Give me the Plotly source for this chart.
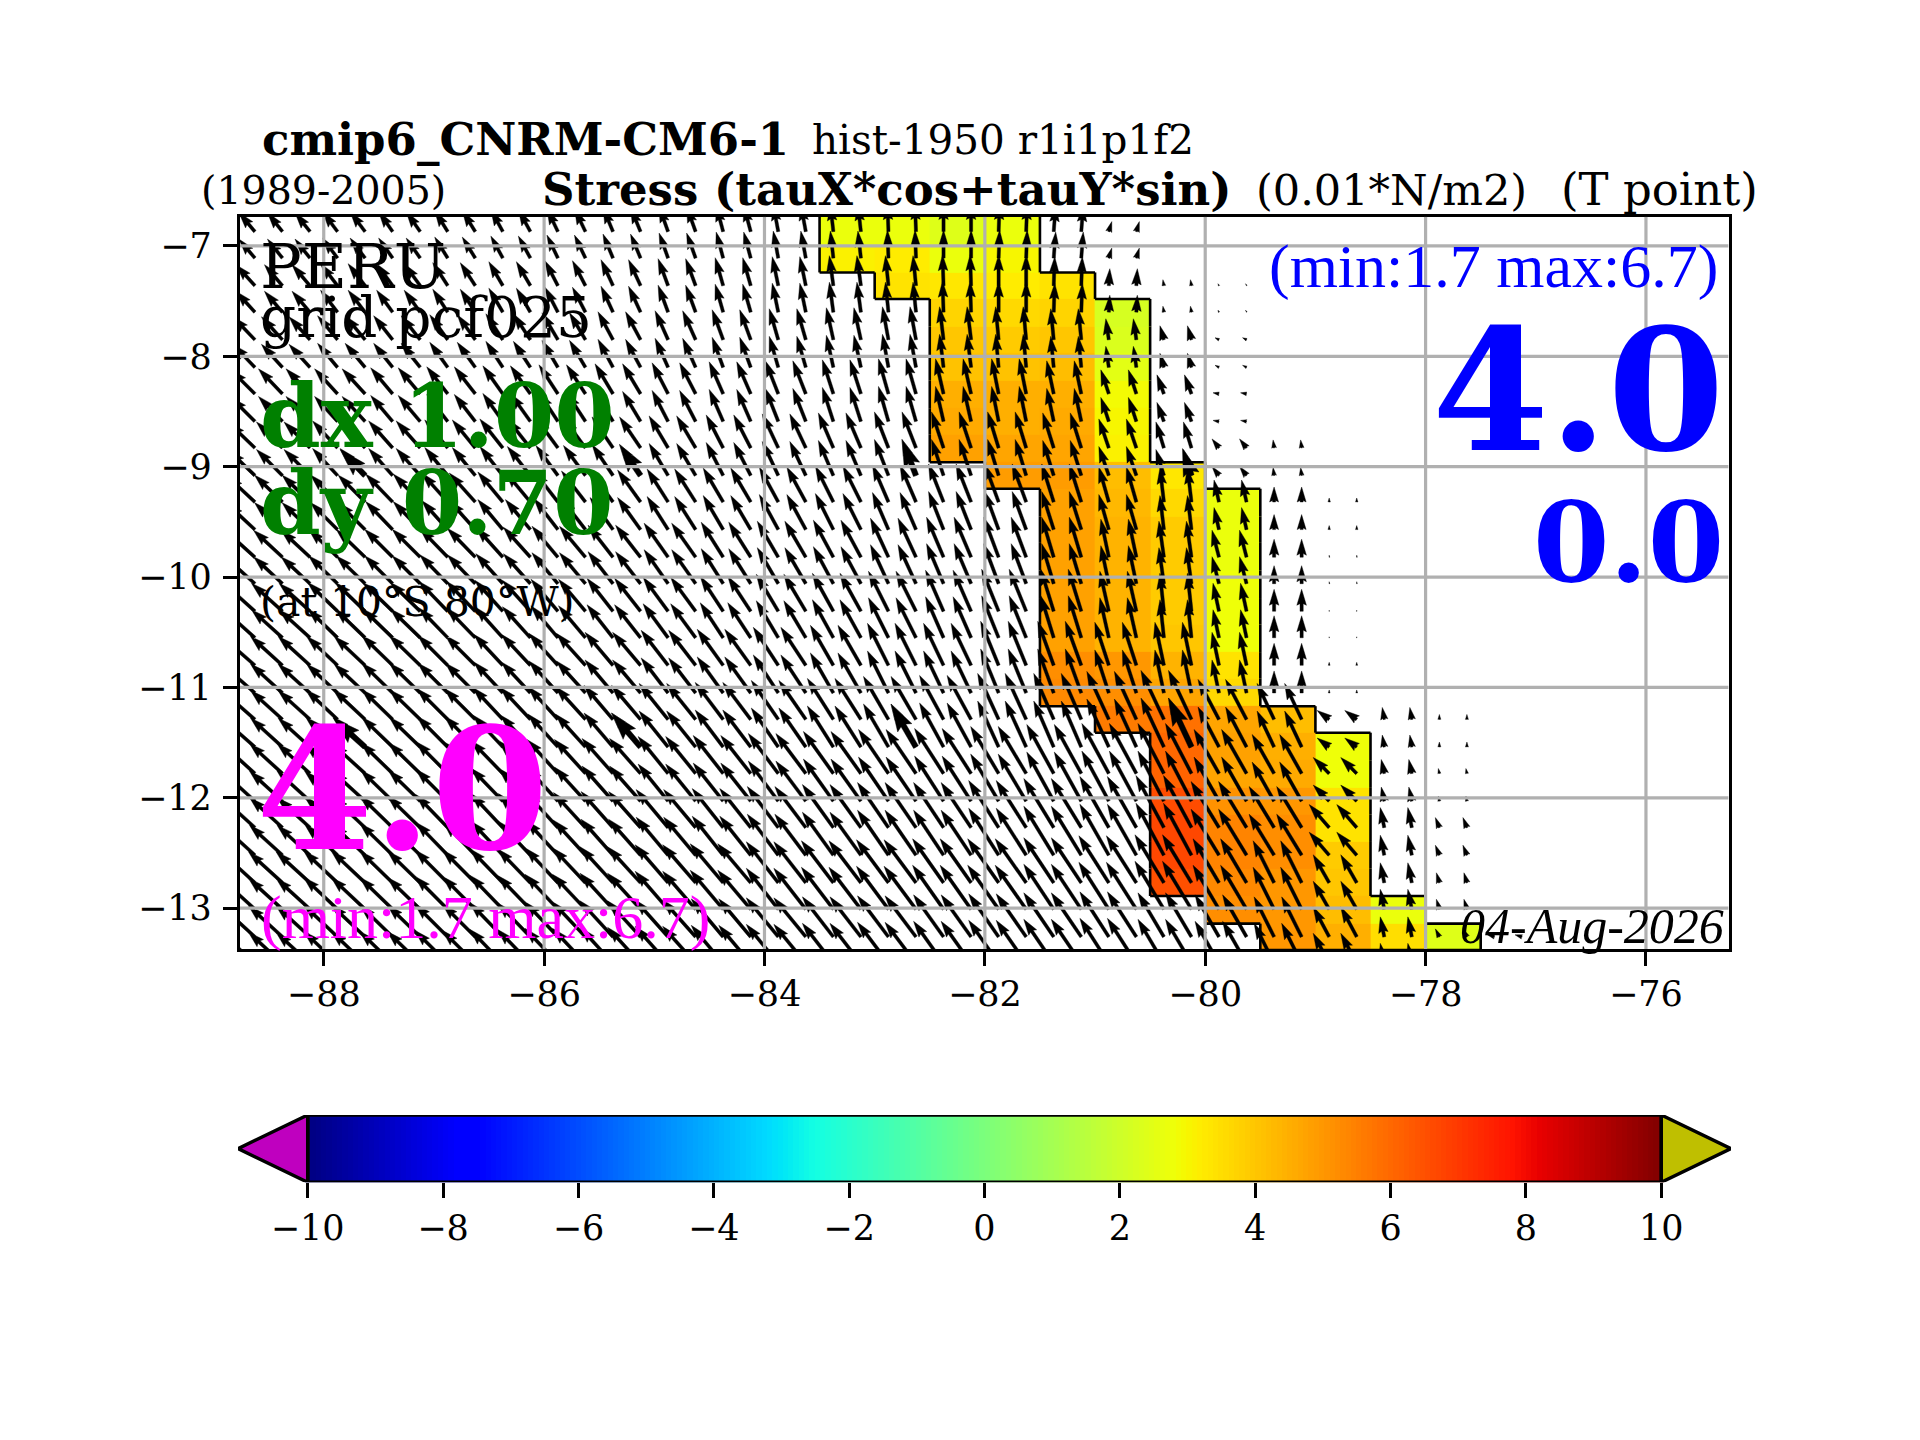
import numpy as np
import plotly.graph_objects as go

FONT = 'DejaVu Serif'
THIN_FONT = 'Liberation Serif'

# assi della mappa
lon_ticks = [-88, -86, -84, -82, -80, -78, -76]
lat_ticks = [-7, -8, -9, -10, -11, -12, -13]
lon_range = [-88.76, -75.25]
lat_range = [-13.37, -6.735]

# barra dei colori
cbar_ticks = [-10, -8, -6, -4, -2, 0, 2, 4, 6, 8, 10]
cbar_under = '#bf00bf'
cbar_over = '#bfbf00'
jet = [
    [0.0, 'rgb(0,0,128)'], [0.11, 'rgb(0,0,255)'], [0.125, 'rgb(0,0,255)'],
    [0.34, 'rgb(0,219,255)'], [0.35, 'rgb(0,230,247)'], [0.375, 'rgb(20,255,226)'],
    [0.64, 'rgb(239,255,8)'], [0.65, 'rgb(247,246,0)'], [0.66, 'rgb(255,236,0)'],
    [0.89, 'rgb(255,19,0)'], [0.91, 'rgb(232,0,0)'], [1.0, 'rgb(128,0,0)'],
]

# griglia delle celle colorate (lat_edges dal nord al sud)
lon_edges = [-83.5, -83.0, -82.5, -82.0, -81.5, -81.0, -80.5, -80.0, -79.5, -79.0, -78.5, -78.0, -77.5]
lat_edges = [-6.70, -6.99, -7.24, -7.48, -7.73, -7.97, -8.22, -8.47, -8.71, -8.96, -9.20, -9.45, -9.69, -9.94,
             -10.19, -10.43, -10.68, -10.92, -11.17, -11.41, -11.66, -11.91, -12.15, -12.40, -12.64, -12.89,
             -13.14, -13.38]

# valori di stress per colonna, a partire dalla riga col_start
col_start = [0, 0, 0, 0, 2, 3, 9, 10, 18, 19, 25, 26]
col_0 = [2.7, 3.1]
col_1 = [2.7, 3.2, 3.4]
col_2 = [2.4, 2.7, 3.3, 3.7, 4.0, 4.1, 4.5, 4.6, 4.8]
col_3 = [2.7, 3.0, 3.2, 3.6, 3.9, 4.1, 4.5, 4.5, 4.7, 4.9]
col_4 = [3.4, 3.7, 4.0, 4.2, 4.5, 4.6, 4.7, 4.9, 4.8, 4.8, 4.8, 4.8, 4.8, 4.8, 5.2, 5.3]
col_5 = [2.2, 2.3, 2.5, 2.9, 3.0, 3.1, 4.2, 4.3, 4.4, 4.4, 4.4, 4.4, 4.4, 5.0, 5.2, 5.6]
col_6 = [3.3, 3.6, 3.9, 3.9, 3.9, 3.9, 4.0, 4.4, 4.7, 5.8, 6.0, 6.1, 6.6, 6.7, 6.7, 6.5]
col_7 = [2.7, 2.7, 2.7, 2.8, 2.8, 2.8, 3.4, 3.6, 4.7, 4.8, 4.7, 5.1, 5.4, 5.4, 5.3, 5.2]
col_8 = [4.2, 4.5, 4.6, 5.0, 5.2, 5.2, 5.0, 5.0, 5.0]
col_9 = [2.8, 2.8, 3.4, 3.4, 3.9, 4.0, 4.2, 4.5]
col_10 = [2.7, 3.5]
col_11 = [2.4]
col_values = [col_0, col_1, col_2, col_3, col_4, col_5, col_6, col_7, col_8, col_9, col_10, col_11]

# vettori: ogni valore vale per due frecce in lon e due righe in lat
lon_pairs = [-88.75, -88.25, -87.75, -87.25, -86.75, -86.25, -85.75, -85.25, -84.75, -84.25, -83.75, -83.25,
             -82.75, -82.25, -81.75, -81.25, -80.75, -80.25, -79.75, -79.25, -78.75, -78.25, -77.75, -77.25]
lat_rows = [-6.87, -7.11, -7.36, -7.60, -7.85, -8.10, -8.34, -8.59, -8.83, -9.08, -9.32, -9.57, -9.82, -10.06,
            -10.31, -10.55, -10.80, -11.05, -11.29, -11.54, -11.78, -12.03, -12.27, -12.52, -12.77, -13.01,
            -13.26, -13.50]
tau_x = [
    [-1.6, -1.5, -1.5, -1.4, -1.3, -1.2, -1.1, -1.0, -0.9, -0.7, -0.5, -0.3, -0.1, 0.0, 0.1, 0.2, 0.3, 0, 0, 0, 0, 0, 0, 0],
    [-1.9, -1.8, -1.7, -1.6, -1.5, -1.4, -1.3, -1.2, -1.0, -0.8, -0.6, -0.4, -0.3, -0.1, 0.0, 0.1, 0.1, -0.1, -0.1, 0, 0, 0, 0, 0],
    [-2.2, -2.1, -2.0, -1.9, -1.8, -1.7, -1.6, -1.5, -1.3, -1.1, -0.9, -0.7, -0.6, -0.4, -0.3, -0.3, -0.3, -0.4, -0.4, 0, 0, 0, 0, 0],
    [-2.4, -2.4, -2.3, -2.2, -2.1, -2.0, -1.9, -1.8, -1.6, -1.4, -1.3, -1.1, -1.0, -0.8, -0.7, -0.7, -0.8, -0.7, -0.6, 0, 0, 0, 0, 0],
    [-2.6, -2.6, -2.5, -2.4, -2.3, -2.3, -2.2, -2.1, -1.9, -1.7, -1.6, -1.5, -1.4, -1.2, -1.1, -1.1, -1.0, -0.8, -0.7, -0.1, 0, 0, 0, 0],
    [-2.8, -2.8, -2.7, -2.7, -2.6, -2.5, -2.4, -2.3, -2.1, -2.0, -1.9, -1.8, -1.6, -1.5, -1.4, -1.2, -1.0, -0.4, -0.5, 0, 0, 0, 0, 0],
    [-3.0, -2.9, -2.9, -2.8, -2.8, -2.7, -2.6, -2.5, -2.4, -2.2, -2.1, -2.0, -1.8, -1.7, -1.5, -1.2, -0.8, -0.5, -0.7, 0, 0, 0, 0, 0],
    [-3.1, -3.1, -3.0, -3.0, -2.9, -2.8, -2.7, -2.6, -2.5, -2.3, -2.2, -2.1, -2.0, -1.8, -1.7, -1.3, -0.9, -0.4, -0.6, 0, 0, 0, 0, 0],
    [-3.2, -3.2, -3.1, -3.1, -3.0, -2.9, -2.9, -2.8, -2.7, -2.6, -2.5, -2.3, -2.1, -2.0, -1.8, -1.6, -1.4, -0.9, -0.7, 0, 0, 0, 0, 0],
    [-3.3, -3.2, -3.2, -3.1, -3.1, -3.0, -3.0, -2.9, -2.9, -2.8, -2.7, -2.6, -2.5, -2.4, -2.1, -2.0, -2.2, -2.3, -2.1, -1.7, -1.2, -0.2, 0.0, 0],
    [-3.3, -3.3, -3.3, -3.2, -3.2, -3.2, -3.1, -3.1, -3.0, -3.0, -3.0, -3.0, -3.0, -2.9, -2.8, -2.7, -2.7, -2.6, -2.5, -2.2, -1.6, -0.3, -0.1, 0],
    [-3.3, -3.3, -3.3, -3.3, -3.2, -3.2, -3.2, -3.2, -3.2, -3.1, -3.1, -3.1, -3.1, -3.0, -3.0, -3.0, -2.9, -2.8, -2.8, -2.5, -2.0, -0.4, -0.4, 0],
    [-3.4, -3.4, -3.4, -3.3, -3.3, -3.3, -3.3, -3.3, -3.3, -3.3, -3.2, -3.2, -3.2, -3.1, -3.1, -3.0, -3.0, -2.9, -2.6, -2.1, -1.6, -0.4, -0.3, 0],
    [-3.4, -3.4, -3.4, -3.3, -3.3, -3.3, -3.3, -3.3, -3.3, -3.2, -3.2, -3.1, -3.1, -3.0, -3.0, -3.0, -2.9, -2.6, -2.4, -2.0, -1.6, -0.4, -0.4, -0.7],
]
tau_y = [
    [1.9, 1.9, 2.0, 2.0, 2.1, 2.2, 2.3, 2.4, 2.5, 2.6, 2.7, 2.7, 2.8, 2.8, 2.8, 2.6, 1.0, 0, 0, 0, 0, 0, 0, 0],
    [2.1, 2.1, 2.2, 2.2, 2.3, 2.4, 2.5, 2.6, 2.7, 2.8, 2.9, 3.0, 3.0, 3.1, 3.1, 2.9, 1.7, 0.6, 0.2, 0, 0, 0, 0, 0],
    [2.3, 2.3, 2.4, 2.4, 2.5, 2.6, 2.7, 2.8, 2.9, 3.0, 3.1, 3.2, 3.3, 3.3, 3.3, 3.1, 2.1, 1.4, 0.2, 0, 0, 0, 0, 0],
    [2.4, 2.5, 2.5, 2.6, 2.7, 2.8, 2.9, 3.0, 3.1, 3.2, 3.3, 3.4, 3.5, 3.5, 3.5, 3.3, 2.4, 1.9, 0.1, 0, 0, 0, 0, 0],
    [2.5, 2.6, 2.7, 2.7, 2.8, 2.9, 3.0, 3.1, 3.2, 3.3, 3.4, 3.5, 3.6, 3.6, 3.6, 3.5, 2.9, 2.6, 0.9, 0.8, 0, 0, 0, 0],
    [2.6, 2.7, 2.7, 2.8, 2.9, 3.0, 3.1, 3.2, 3.3, 3.4, 3.5, 3.6, 3.7, 3.8, 3.8, 3.8, 3.5, 3.4, 2.2, 1.5, 0.4, 0, 0, 0],
    [2.7, 2.7, 2.8, 2.8, 2.9, 3.0, 3.1, 3.2, 3.4, 3.5, 3.6, 3.7, 3.9, 4.0, 4.0, 4.0, 3.8, 3.6, 2.7, 1.8, 0.2, 0, 0, 0],
    [2.8, 2.8, 2.9, 2.9, 3.0, 3.1, 3.2, 3.3, 3.4, 3.5, 3.7, 3.8, 4.0, 4.1, 4.2, 4.2, 4.0, 3.8, 2.8, 2.2, 0.1, 0, 0, 0],
    [2.8, 2.9, 2.9, 3.0, 3.0, 3.1, 3.2, 3.3, 3.5, 3.6, 3.8, 4.0, 4.2, 4.2, 4.4, 4.4, 4.3, 4.3, 3.3, 2.2, 0.3, 0, 0, 0],
    [2.9, 2.9, 3.0, 3.0, 3.1, 3.2, 3.3, 3.4, 3.6, 3.7, 3.9, 4.1, 4.3, 4.4, 4.6, 4.6, 4.8, 4.9, 4.0, 3.6, 0.9, 1.2, 0.5, 0],
    [3.0, 3.0, 3.0, 3.1, 3.2, 3.3, 3.4, 3.5, 3.7, 3.8, 4.0, 4.2, 4.4, 4.5, 4.7, 4.9, 5.0, 5.0, 4.4, 3.9, 1.6, 1.4, 0.5, 0],
    [3.0, 3.0, 3.1, 3.2, 3.3, 3.4, 3.5, 3.6, 3.8, 3.9, 4.1, 4.3, 4.5, 4.5, 4.7, 4.9, 5.1, 5.2, 4.6, 4.1, 2.3, 2.0, 1.0, 0],
    [3.1, 3.1, 3.2, 3.2, 3.3, 3.4, 3.5, 3.6, 3.8, 3.9, 4.1, 4.2, 4.3, 4.4, 4.4, 4.5, 4.7, 4.8, 4.4, 4.2, 2.8, 2.0, 1.0, 0],
    [3.1, 3.1, 3.2, 3.2, 3.3, 3.4, 3.5, 3.6, 3.7, 3.8, 3.9, 4.0, 4.1, 4.2, 4.3, 4.4, 4.5, 4.4, 4.2, 4.0, 3.0, 2.0, 0.8, 0.2],
]

# frecce della griglia rada, con la punta piu larga
big_lon = [-87.625, -85.125, -82.625, -80.125, -87.625, -85.125, -82.625, -80.125]
big_lat = [-9.08, -9.08, -9.08, -9.08, -11.54, -11.54, -11.54, -11.54]
big_tau_x = [-2.5, -2.1, -1.4, -0.9, -3.2, -2.9, -2.5, -2.3]
big_tau_y = [2.6, 3.1, 3.6, 2.7, 2.9, 3.4, 4.3, 4.9]

PX_PER_UNIT = 10.0
PX_PER_DEG = 110.3


def arrow_path(lon, lat, u, v, width):
    # stessa forma delle frecce di quiver: asta, punta 3x larga e 5x lunga
    length = np.hypot(u, v) * PX_PER_UNIT
    if length < 1:
        return [], []
    ux, uy = u * PX_PER_UNIT / length, v * PX_PER_UNIT / length
    nx, ny = -uy, ux
    k = min(1.0, length / (5 * width))
    w = width * k
    along = [0, length - 4.5 * w, length - 5 * w, length, length - 5 * w, length - 4.5 * w, 0, 0]
    side = [w / 2, w / 2, 1.5 * w, 0, -1.5 * w, -w / 2, -w / 2, w / 2]
    xs = [lon + (a * ux + s * nx) / PX_PER_DEG for a, s in zip(along, side)]
    ys = [lat + (a * uy + s * ny) / PX_PER_DEG for a, s in zip(along, side)]
    return xs + [None], ys + [None]


# matrice delle celle
z = np.full((len(lat_edges) - 1, len(lon_edges) - 1), np.nan)
for j, (start, vals) in enumerate(zip(col_start, col_values)):
    z[start:start + len(vals), j] = vals

fig = go.Figure()
fig.add_trace(go.Heatmap(x=lon_edges, y=lat_edges[::-1], z=z[::-1], colorscale=jet, zmin=-10, zmax=10,
                         showscale=False, hoverinfo='skip'))

# contorno nero della maschera
line_x, line_y = [], []
for i in range(z.shape[0]):
    for j in range(z.shape[1]):
        if np.isnan(z[i, j]):
            continue
        if i + 1 == z.shape[0] or np.isnan(z[i + 1, j]):
            line_x += [lon_edges[j], lon_edges[j + 1], None]
            line_y += [lat_edges[i + 1], lat_edges[i + 1], None]
        if i == 0 or np.isnan(z[i - 1, j]):
            line_x += [lon_edges[j], lon_edges[j + 1], None]
            line_y += [lat_edges[i], lat_edges[i], None]
        if j == 0 or np.isnan(z[i, j - 1]):
            line_x += [lon_edges[j], lon_edges[j], None]
            line_y += [lat_edges[i], lat_edges[i + 1], None]
        if j + 1 == z.shape[1] or np.isnan(z[i, j + 1]):
            line_x += [lon_edges[j + 1], lon_edges[j + 1], None]
            line_y += [lat_edges[i], lat_edges[i + 1], None]
fig.add_trace(go.Scatter(x=line_x, y=line_y, mode='lines', line=dict(color='black', width=2.6), hoverinfo='skip'))

# frecce
arrow_x, arrow_y = [], []
for r, lat in enumerate(lat_rows):
    for c, lon in enumerate(lon_pairs):
        for off in (-0.125, 0.125):
            xs, ys = arrow_path(lon + off, lat, tau_x[r // 2][c], tau_y[r // 2][c], 3.2)
            arrow_x += xs
            arrow_y += ys
for lon, lat, u, v in zip(big_lon, big_lat, big_tau_x, big_tau_y):
    xs, ys = arrow_path(lon, lat, u, v, 5.5)
    arrow_x += xs
    arrow_y += ys
fig.add_trace(go.Scatter(x=arrow_x, y=arrow_y, mode='lines', fill='toself', fillcolor='black',
                         line=dict(color='black', width=0.4), hoverinfo='skip'))

# griglia sopra le frecce
for lon in lon_ticks:
    fig.add_shape(type='line', x0=lon, x1=lon, y0=lat_range[0], y1=lat_range[1], layer='above',
                  line=dict(color='#b0b0b0', width=3.2))
for lat in lat_ticks:
    fig.add_shape(type='line', x0=lon_range[0], x1=lon_range[1], y0=lat, y1=lat, layer='above',
                  line=dict(color='#b0b0b0', width=3.2))

# barra dei colori
levels = np.linspace(-10, 10, 256)
fig.add_trace(go.Heatmap(x=levels, y=[0, 1], z=[levels, levels], colorscale=jet, zmin=-10, zmax=10,
                         showscale=False, hoverinfo='skip', xaxis='x2', yaxis='y2'))
fig.add_trace(go.Scatter(x=[-10, -11.03, -10, -10], y=[0, 0.5, 1, 0], mode='lines', fill='toself',
                         fillcolor=cbar_under, line=dict(color='black', width=3.4), xaxis='x2', yaxis='y2',
                         hoverinfo='skip', cliponaxis=False))
fig.add_trace(go.Scatter(x=[10, 11.03, 10, 10], y=[0, 0.5, 1, 0], mode='lines', fill='toself',
                         fillcolor=cbar_over, line=dict(color='black', width=3.4), xaxis='x2', yaxis='y2',
                         hoverinfo='skip', cliponaxis=False))
fig.add_trace(go.Scatter(x=[-10, 10, 10, -10, -10], y=[0, 0, 1, 1, 0], mode='lines',
                         line=dict(color='black', width=3.4), xaxis='x2', yaxis='y2', hoverinfo='skip',
                         cliponaxis=False))


def add_text(text, x, y, size, color='black', anchor='left', family=FONT):
    fig.add_annotation(text=text, x=x / 1920, y=1 - y / 1440, xref='paper', yref='paper', xanchor=anchor,
                       yanchor='middle', showarrow=False, borderpad=0,
                       font=dict(family=family, size=size, color=color))


# titoli
add_text('<b>cmip6_CNRM-CM6-1</b>', 261, 140, 45)
add_text('hist-1950 r1i1p1f2', 811, 140, 40.5)
add_text('(1989-2005)', 200, 190, 39.5)
add_text('<b>Stress (tauX*cos+tauY*sin)</b>', 541, 190, 45)
add_text('(0.01*N/m2)', 1255, 190, 43)
add_text('(T point)', 1759, 190, 45, anchor='right')

# testi dentro la mappa
add_text('PERU', 259, 266, 62)
add_text('grid pcf025', 259, 317, 56.5)
add_text('<b>dx 1.00</b>', 259, 417, 87, color='green')
add_text('<b>dy 0.70</b>', 259, 504, 87, color='green')
add_text('(at 10°S 80°W)', 259, 602, 41)
add_text('<b>4.0</b>', 255, 790, 168, color='magenta')
add_text('(min:1.7 max:6.7)', 260, 918, 62, color='magenta', family=THIN_FONT)
add_text('(min:1.7 max:6.7)', 1719, 266, 62, color='blue', anchor='right', family=THIN_FONT)
add_text('<b>4.0</b>', 1725, 391, 168, color='blue', anchor='right')
add_text('<b>0.0</b>', 1725, 542, 110, color='blue', anchor='right')
add_text('<i>04-Aug-2026</i>', 1725, 926, 50, anchor='right', family=THIN_FONT)

fig.update_layout(
    width=1920, height=1440, margin=dict(l=0, r=0, t=0, b=0, pad=0), showlegend=False,
    paper_bgcolor='white', plot_bgcolor='white',
    font=dict(family=FONT, size=35, color='black'),
    xaxis=dict(domain=[240 / 1920, 1728.6 / 1920], range=lon_range, tickvals=lon_ticks, ticks='outside', ticklen=14,
               tickwidth=3, tickcolor='black', showline=True, linecolor='black', linewidth=3.4, mirror=True,
               showgrid=False, zeroline=False, anchor='y', ticklabelstandoff=-2),
    yaxis=dict(domain=[1 - 949 / 1440, 1 - 216.7 / 1440], range=lat_range, tickvals=lat_ticks, ticks='outside',
               ticklen=14, tickwidth=3, tickcolor='black', showline=True, linecolor='black', linewidth=3.4,
               mirror=True, showgrid=False, zeroline=False, anchor='x', ticklabelstandoff=4),
    xaxis2=dict(domain=[238 / 1920, 1731 / 1920], range=[-11.03, 11.03], tickvals=cbar_ticks, ticks='outside',
                ticklen=15, tickwidth=3, tickcolor='black', showgrid=False, zeroline=False, anchor='y2'),
    yaxis2=dict(domain=[1 - 1182.3 / 1440, 1 - 1115 / 1440], range=[0, 1], showticklabels=False, ticks='',
                showgrid=False, zeroline=False, anchor='x2'),
)

fig.write_html("out.html", config={'displayModeBar': False}, post_script="document.body.style.margin='0';")
